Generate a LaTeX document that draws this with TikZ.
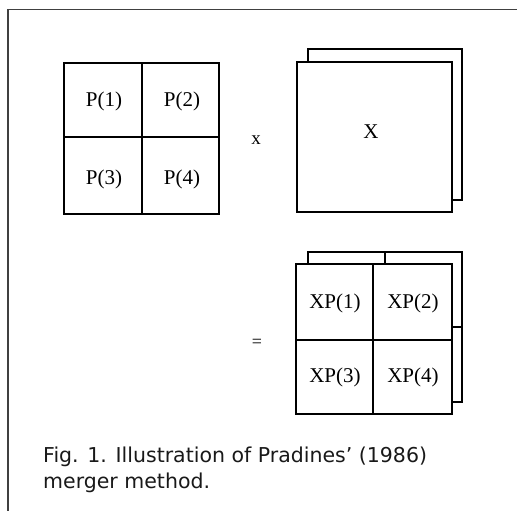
\documentclass[tikz,border=0pt]{standalone}
\usepackage{fontspec}
\setmainfont{Liberation Serif}
\newfontfamily\capfont{DejaVu Sans}
\begin{document}
\begin{tikzpicture}[x=1pt,y=-1pt,
  box/.style={draw=black,line width=2pt,fill=white},
  divider/.style={line width=2pt},
  cell/.style={font=\fontsize{21}{23}\selectfont,inner sep=0pt},
  frameline/.style={draw=black!75,line width=1.5pt}]
\useasboundingbox (0,0) rectangle (517,511);
% frame
\coordinate (f1) at (8,511);
\coordinate (f2) at (8,9.5);
\coordinate (f3) at (517,9.5);
\draw[frameline] (f1) -- (f2) -- (f3);
% P grid
\draw[box] (64,63) rectangle (219,214);
\draw[divider] (142,63) -- (142,214);
\draw[divider] (64,137) -- (219,137);
\node[cell] (p1) at (104,101) {P(1)};
\node[cell] (p2) at (182,101) {P(2)};
\node[cell] (p3) at (104,179) {P(3)};
\node[cell] (p4) at (182,179) {P(4)};
% times
\node[font=\fontsize{19}{20}\selectfont,inner sep=0pt] (times) at (256,140) {x};
% X
\draw[box] (308,49) rectangle (462,200);
\draw[box] (297,62) rectangle (452,212);
\node[cell] (xx) at (371,132) {X};
% XP back
\draw[box] (308,252) rectangle (462,402);
\draw[divider] (385,252) -- (385,402);
\draw[divider] (308,327) -- (462,327);
% XP front
\draw[box] (296,264) rectangle (452,414);
\draw[divider] (373,264) -- (373,414);
\draw[divider] (296,340) -- (452,340);
\node[cell] (xp1) at (335,303) {XP(1)};
\node[cell] (xp2) at (413,303) {XP(2)};
\node[cell] (xp3) at (335,377) {XP(3)};
\node[cell] (xp4) at (413,377) {XP(4)};
\node[font=\fontsize{18}{20}\selectfont,inner sep=0pt] (eq) at (257,343) {=};
% caption
\node[font=\capfont\fontsize{20.5}{26.5}\selectfont,align=left,anchor=base west,inner sep=0pt,text=black!90] (cap) at (43,488.5)
 {Fig. 1. Illustration of Pradines’ (1986)\\merger method.};
\end{tikzpicture}
\end{document}
